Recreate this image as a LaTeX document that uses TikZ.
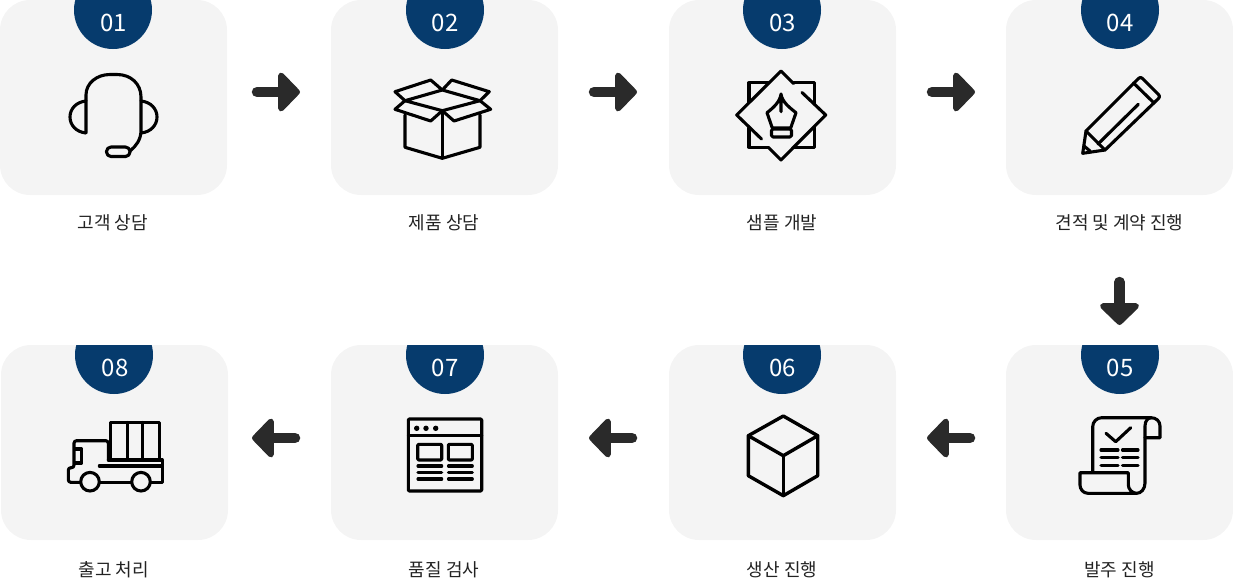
\documentclass[tikz,border=0pt]{standalone}
\usepackage{fontspec}
\setmainfont{Noto Sans CJK KR}
\usetikzlibrary{arrows.meta}
\definecolor{cardbg}{HTML}{F4F4F4}
\definecolor{badge}{HTML}{063B6D}
\definecolor{arrowc}{HTML}{2A2A2A}
\definecolor{labelc}{HTML}{222222}
\tikzset{
  card/.style={rectangle,rounded corners=30pt,fill=cardbg,minimum width=227pt,minimum height=195pt,inner sep=0pt,outer sep=0pt},
  badgedisc/.style={fill=badge},
  numtext/.style={text=white,font=\fontsize{24}{24}\selectfont,inner sep=0pt},
  captext/.style={text=labelc,font=\fontsize{18}{18}\selectfont,inner sep=0pt},
  flowarrow/.style={draw=arrowc,line width=10.5pt,line cap=round,-{Triangle[round,length=23pt,width=46pt,line width=6pt]}},
  icon/.style={draw=black,line width=3.1pt,line cap=round,line join=round},
}
\begin{document}
\begin{tikzpicture}[x=1pt,y=-1pt]
\useasboundingbox (0,0) rectangle (1233,579);
% cards
\node[card] (c1) at (113.5,97.5) {};
\node[card] (c2) at (444.5,97.5) {};
\node[card] (c3) at (782.5,97.5) {};
\node[card] (c4) at (1119.5,97.5) {};
\node[card] (c5) at (1119.5,442.5) {};
\node[card] (c6) at (782.5,442.5) {};
\node[card] (c7) at (444.5,442.5) {};
\node[card] (c8) at (114.5,442.5) {};
% badges
\begin{scope}
\clip (0,0) rectangle (1233,195);
\fill[badgedisc] (113,10) circle (39);
\fill[badgedisc] (445,10) circle (39);
\fill[badgedisc] (782,10) circle (39);
\fill[badgedisc] (1120,10) circle (39);
\end{scope}
\begin{scope}
\clip (0,345) rectangle (1233,540);
\fill[badgedisc] (1120,355) circle (39);
\fill[badgedisc] (782,355) circle (39);
\fill[badgedisc] (445,355) circle (39);
\fill[badgedisc] (114,355) circle (39);
\end{scope}
\node[numtext] (n1) at (113.5,22.5) {01};
\node[numtext] (n2) at (445,22.5) {02};
\node[numtext] (n3) at (782.5,22.5) {03};
\node[numtext] (n4) at (1120,22.5) {04};
\node[numtext] (n5) at (1120,367.5) {05};
\node[numtext] (n6) at (782.5,367.5) {06};
\node[numtext] (n7) at (445,367.5) {07};
\node[numtext] (n8) at (115,367.5) {08};
% captions
\node[captext] (t1) at (113,223) {고객 상담};
\node[captext] (t2) at (444,223) {제품 상담};
\node[captext] (t3) at (782,223) {샘플 개발};
\node[captext] (t4) at (1119.5,223) {견적 및 계약 진행};
\node[captext] (t5) at (1119.5,570) {발주 진행};
\node[captext] (t6) at (782,570) {생산 진행};
\node[captext] (t7) at (444,570) {품질 검사};
\node[captext] (t8) at (114,570) {출고 처리};
% arrows
\draw[flowarrow,shorten <=30pt,shorten >=31pt] ([yshift=5.5pt]c1.east) -- ([yshift=5.5pt]c2.west);
\draw[flowarrow,shorten <=36pt,shorten >=32pt] ([yshift=5.5pt]c2.east) -- ([yshift=5.5pt]c3.west);
\draw[flowarrow,shorten <=36pt,shorten >=31pt] ([yshift=5.5pt]c3.east) -- ([yshift=5.5pt]c4.west);
\draw[flowarrow,shorten <=87pt,shorten >=20pt] (c4.south) -- (c5.north);
\draw[flowarrow,shorten <=36pt,shorten >=31pt] ([yshift=4.5pt]c5.west) -- ([yshift=4.5pt]c6.east);
\draw[flowarrow,shorten <=37pt,shorten >=31pt] ([yshift=4.5pt]c6.west) -- ([yshift=4.5pt]c7.east);
\draw[flowarrow,shorten <=36pt,shorten >=24pt] ([yshift=4.5pt]c7.west) -- ([yshift=4.5pt]c8.east);
% icon 1 headset
\draw[icon] (86,132.5) -- (86,95) .. controls (86,83) and (97,74.5) .. (110,74.5) -- (117,74.5) .. controls (131,74.5) and (141,84) .. (141,97) -- (141,130) .. controls (141,140) and (136,146) .. (130,151);
\draw[icon] (86,101) .. controls (76,102) and (70,109) .. (70,117) .. controls (70,125) and (76,132) .. (86,133);
\draw[icon] (141,101) .. controls (151,102) and (157,109) .. (157,117) .. controls (157,125) and (151,132) .. (141,133);
\draw[icon,rounded corners=4.5pt] (106.5,147) rectangle (130,156.5);
% icon 2 box
\draw[icon] (405,100.7) -- (442.3,90) -- (480,100.7) -- (442.3,110.7) -- cycle;
\draw[icon] (442.3,90) -- (430.7,80) -- (395,91.7) -- (405,100.7);
\draw[icon] (442.3,90) -- (451.7,80) -- (489.3,91.7) -- (480,100.7);
\draw[icon] (405,100.7) -- (395,109.3) -- (430.7,121) -- (442.3,110.7);
\draw[icon] (480,100.7) -- (490.7,109.3) -- (454,121) -- (442.3,110.7);
\draw[icon] (405,115) -- (405,147.3) -- (442.3,158.3) -- (480,147.3) -- (480,115);
\draw[icon] (442.3,110.7) -- (442.3,158.3);
% icon 3 pen tool
\draw[icon] (793.5,83.5) -- (781,71) -- (736.7,115) -- (761.5,139);
\draw[icon] (802,92.5) -- (825.7,115) -- (781,160) -- (768.5,147.5);
\draw[icon] (768,82.7) -- (749,82.7) -- (749,102);
\draw[icon] (793.5,82.7) -- (814.3,82.7) -- (814.3,104);
\draw[icon] (814.3,127) -- (814.3,147.3) -- (794,147.3);
\draw[icon] (749,128) -- (749,147.3) -- (768.5,147.3);
\draw[icon] (781,94) .. controls (780,102) and (773,108) .. (767,112.7) -- (772.3,128) -- (790.7,128) -- (796,112.7) .. controls (790,108) and (782,102) .. (781,94) -- (781,111.7);
\draw[icon,rounded corners=1.5pt] (771.5,129) rectangle (791.5,137);
% icon 4 pencil
\draw[icon] (1082.7,153.3) -- (1086,131) -- (1138.5,78.5) .. controls (1140,77) and (1141,77) .. (1142.5,78.5) -- (1158.5,94.5) .. controls (1160,96) and (1160,97) .. (1158.5,98.5) -- (1105,150) -- cycle;
\draw[icon] (1086,131) -- (1105,150);
\draw[icon] (1133.5,83) -- (1153,102);
\draw[icon] (1138.3,104.3) -- (1098,144);
\draw[icon] (1084,146) -- (1090,151);
% icon 5 scroll
\draw[icon,rounded corners=9pt] (1092.7,471.7) -- (1092.7,417.7) -- (1151,417.7);
\draw[icon] (1151,417.7) .. controls (1156,417.7) and (1160,421) .. (1160,426) -- (1160,437.7) -- (1145,437.7);
\draw[icon] (1151,417.7) .. controls (1148,417.7) and (1145,421) .. (1145,426) -- (1145,483) .. controls (1145,489) and (1141,493.3) .. (1136.7,493.3) -- (1088,493.3) .. controls (1083,493.3) and (1080,489) .. (1080,485) -- (1080,472.7) -- (1128.3,472.7) -- (1128.3,485) .. controls (1128.3,489) and (1132,493.3) .. (1136.7,493.3);
\draw[icon] (1106,433.3) -- (1115.7,441.7) -- (1130.7,427.7);
\foreach \yy in {450,457.7,465.7} {
  \draw[icon] (1101,\yy) -- (1118,\yy);
  \draw[icon] (1122.5,\yy) -- (1138,\yy);
}
% icon 6 cube
\draw[icon,line width=3.4pt] (783.3,416) -- (817.7,435.7) -- (817.7,475.7) -- (783.3,495.7) -- (748.3,475.7) -- (748.3,435.7) -- cycle;
\draw[icon,line width=3.4pt] (748.3,435.7) -- (783.3,455.7) -- (817.7,435.7);
\draw[icon,line width=3.4pt] (783.3,455.7) -- (783.3,495.7);
% icon 7 window
\draw[icon,rounded corners=1pt] (408.3,419) rectangle (481.7,491);
\draw[icon] (408.3,435.7) -- (481.7,435.7);
\fill (416.7,428.3) circle (2.7) (426,428.3) circle (2.7) (435.7,428.3) circle (2.7);
\draw[icon,rounded corners=1pt] (417.7,444.3) rectangle (441.7,460);
\draw[icon,rounded corners=1pt] (448.3,444.3) rectangle (472.3,460);
\foreach \yy in {466,472.7,479} {
  \draw[icon] (418,\yy) -- (441.7,\yy);
  \draw[icon] (448.5,\yy) -- (472.3,\yy);
}
% icon 8 truck
\draw[icon] (110.7,460) -- (110.7,422.3) -- (159.3,422.3) -- (159.3,460);
\draw[icon] (127.7,422.3) -- (127.7,460);
\draw[icon] (142.3,422.3) -- (142.3,460);
\draw[icon] (108.3,460) -- (162.3,460) -- (162.3,482.3) -- (150.5,482.3);
\draw[icon] (99.3,466) -- (162.3,466);
\draw[icon] (131.5,482.3) -- (100,482.3);
\draw[icon] (90,481.7) circle (9.3);
\draw[icon] (141,481.7) circle (9.3);
\draw[icon,rounded corners=2.5pt] (80,482.3) -- (68.3,482.3) -- (68.3,467.7) -- (74,467.7) -- (74,440.7) -- (108.3,440.7) -- (108.3,460);
\draw[icon] (75,449) -- (81.7,449) -- (81.7,463) -- (75,463);
\end{tikzpicture}
\end{document}
